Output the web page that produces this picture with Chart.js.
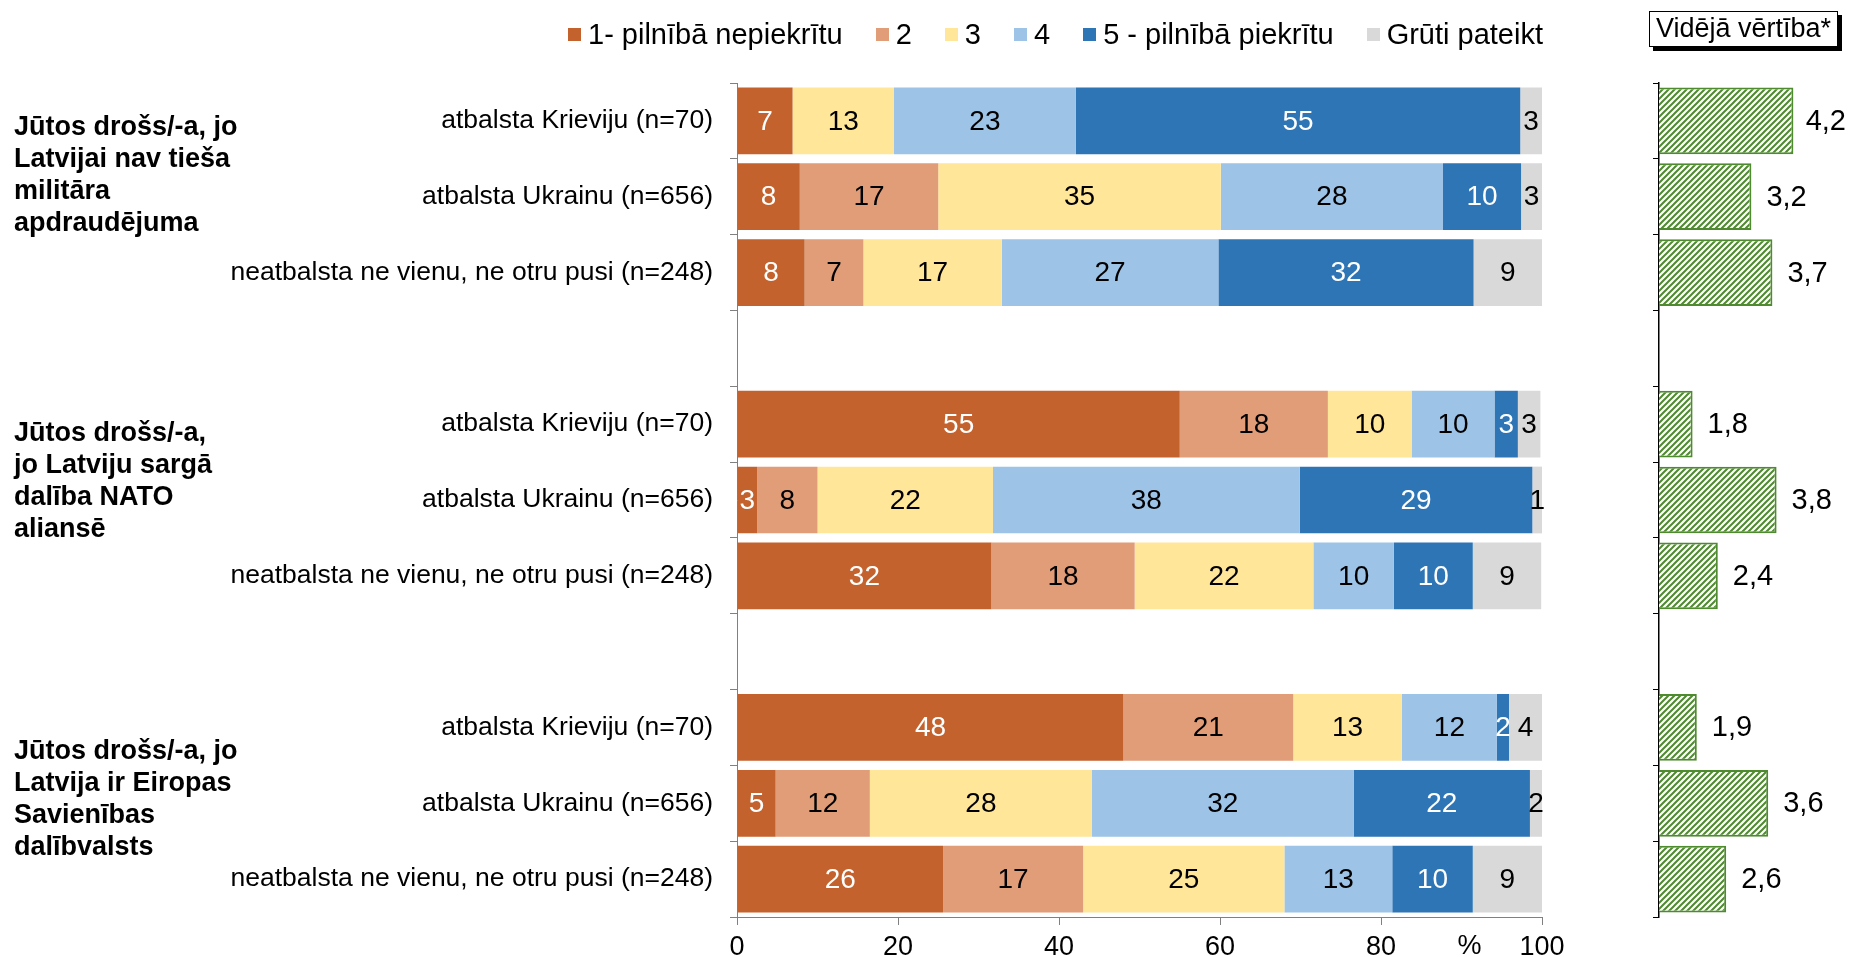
<!DOCTYPE html>
<html>
<head>
<meta charset="utf-8">
<script src="https://cdn.jsdelivr.net/npm/chart.js@4"></script>
<style>
  body { margin: 0; background: #fff; width: 1852px; height: 957px; overflow: hidden; position: relative;
         font-family: "Liberation Sans", Arial, sans-serif; }
  #left { position: absolute; left: 0; top: 0; }
  #right { position: absolute; left: 1590px; top: 0; }
  #legend { position: absolute; left: 568px; top: 18px; display: flex; align-items: center; font-size: 29px; white-space: nowrap; }
  .item { display: flex; align-items: center; margin-right: 33px; }
  .item:last-child { margin-right: 0; }
  .box { width: 13px; height: 13px; margin-right: 7px; }
  #meanTitle { position: absolute; left: 1649px; top: 11px; border: 1px solid #000; padding: 1px 6px 2px 6px;
               font-size: 27px; box-shadow: 4px 4px 0 #000; background: #fff; }
</style>
</head>
<body>
<canvas id="left" width="1580" height="957"></canvas>
<canvas id="right" width="262" height="957"></canvas>
<div id="legend"></div>
<div id="meanTitle">Vidējā vērtība*</div>
<script>
// rindu nosaukumi (tukšās rindas - atstarpes starp grupām)
var rowLabels = [
  'atbalsta Krieviju (n=70)', 'atbalsta Ukrainu (n=656)', 'neatbalsta ne vienu, ne otru pusi (n=248)', '',
  'atbalsta Krieviju (n=70)', 'atbalsta Ukrainu (n=656)', 'neatbalsta ne vienu, ne otru pusi (n=248)', '',
  'atbalsta Krieviju (n=70)', 'atbalsta Ukrainu (n=656)', 'neatbalsta ne vienu, ne otru pusi (n=248)'
];
var groupLabels = [
  ['Jūtos drošs/-a, jo', 'Latvijai nav tieša', 'militāra', 'apdraudējuma'],
  ['Jūtos drošs/-a,', 'jo Latviju sargā', 'dalība NATO', 'aliansē'],
  ['Jūtos drošs/-a, jo', 'Latvija ir Eiropas', 'Savienības', 'dalībvalsts']
];
var seriesNames = ['1- pilnībā nepiekrītu', '2', '3', '4', '5 - pilnībā piekrītu', 'Grūti pateikt'];
var seriesColors = ['#C3622D', '#E19C78', '#FFE699', '#9DC3E6', '#2E75B6', '#D9D9D9'];
var labelColors = ['#fff', '#000', '#000', '#000', '#fff', '#000'];

// joslu garumi (%)
var s1 = [6.9, 7.8, 8.4, null, 55.0, 2.5, 31.6, null, 48.0, 4.8, 25.6];
var s2 = [0, 17.2, 7.3, null, 18.4, 7.5, 17.8, null, 21.1, 11.7, 17.4];
var s3 = [12.6, 35.1, 17.2, null, 10.4, 21.8, 22.2, null, 13.5, 27.6, 25.0];
var s4 = [22.6, 27.6, 26.9, null, 10.3, 38.1, 10.0, null, 11.8, 32.5, 13.4];
var s5 = [55.2, 9.7, 31.7, null, 2.9, 28.9, 9.8, null, 1.5, 21.9, 10.0];
var s6 = [2.7, 2.6, 8.5, null, 2.8, 1.2, 8.5, null, 4.1, 1.5, 8.6];

// uz joslām rādītās vērtības
var l1 = [7, 8, 8, null, 55, 3, 32, null, 48, 5, 26];
var l2 = [null, 17, 7, null, 18, 8, 18, null, 21, 12, 17];
var l3 = [13, 35, 17, null, 10, 22, 22, null, 13, 28, 25];
var l4 = [23, 28, 27, null, 10, 38, 10, null, 12, 32, 13];
var l5 = [55, 10, 32, null, 3, 29, 10, null, 2, 22, 10];
var l6 = [3, 3, 9, null, 3, 1, 9, null, 4, 2, 9];

// vidējās vērtības
var means = [4.2, 3.2, 3.7, null, 1.8, 3.8, 2.4, null, 1.9, 3.6, 2.6];

var xTicks = [0, 20, 40, 60, 80, 100];

var FONT = '"Liberation Sans", Arial, sans-serif';
var seriesData = [s1, s2, s3, s4, s5, s6];
var seriesLabels = [l1, l2, l3, l4, l5, l6];

// leģenda
var legendEl = document.getElementById('legend');
seriesNames.forEach(function (name, i) {
  var item = document.createElement('div');
  item.className = 'item';
  item.innerHTML = '<div class="box" style="background:' + seriesColors[i] + '"></div><span>' + name + '</span>';
  legendEl.appendChild(item);
});

// vērtības joslās
var barLabels = {
  id: 'barLabels',
  afterDatasetsDraw: function (chart) {
    var ctx = chart.ctx;
    ctx.save();
    ctx.font = '28px ' + FONT;
    ctx.textAlign = 'center';
    ctx.textBaseline = 'middle';
    chart.data.datasets.forEach(function (ds, i) {
      chart.getDatasetMeta(i).data.forEach(function (bar, j) {
        var t = ds.shown[j];
        if (t == null) return;
        ctx.fillStyle = ds.labelColor;
        ctx.fillText(String(t), (bar.x + bar.base) / 2, bar.y + 1);
      });
    });
    ctx.restore();
  }
};

// grupu nosaukumi un % zīme
var sideText = {
  id: 'sideText',
  afterDraw: function (chart) {
    var ctx = chart.ctx;
    var y = chart.scales.y, x = chart.scales.x;
    var mid = [1, 5, 9];
    var shift = [-21, -18, -4];
    ctx.save();
    ctx.font = 'bold 27px ' + FONT;
    ctx.fillStyle = '#000';
    ctx.textAlign = 'left';
    ctx.textBaseline = 'middle';
    groupLabels.forEach(function (lines, g) {
      var cy = y.getPixelForValue(mid[g]) + shift[g];
      lines.forEach(function (line, k) {
        ctx.fillText(line, 14, cy + (k - (lines.length - 1) / 2) * 32);
      });
    });
    ctx.font = '27px ' + FONT;
    ctx.textAlign = 'center';
    ctx.fillText('%', x.getPixelForValue(91), 947);
    ctx.restore();
  }
};

new Chart(document.getElementById('left'), {
  type: 'bar',
  data: {
    labels: rowLabels,
    datasets: seriesData.map(function (d, i) {
      return {
        label: seriesNames[i],
        data: d,
        shown: seriesLabels[i],
        labelColor: labelColors[i],
        backgroundColor: seriesColors[i],
        borderWidth: 0,
        barPercentage: 0.88,
        categoryPercentage: 1
      };
    })
  },
  options: {
    indexAxis: 'y',
    responsive: false,
    animation: false,
    layout: { padding: { top: 83, right: 38, left: 0, bottom: 0 } },
    plugins: { legend: { display: false }, tooltip: { enabled: false } },
    scales: {
      x: {
        stacked: true, min: 0, max: 100,
        afterBuildTicks: function (s) { s.ticks = xTicks.map(function (v) { return { value: v }; }); },
        afterFit: function (s) { s.height = 40; },
        grid: { drawOnChartArea: false, drawTicks: true, tickLength: 8, color: '#808080' },
        border: { color: '#808080', width: 1 },
        ticks: { color: '#000', padding: 6, font: { size: 27, family: FONT } }
      },
      y: {
        stacked: true,
        afterFit: function (s) { s.width = 737; },
        grid: { offset: true, drawOnChartArea: false, drawTicks: true, tickLength: 7, color: '#808080' },
        border: { color: '#808080', width: 1 },
        ticks: { color: '#000', padding: 17, autoSkip: false, font: { size: 26.5, family: FONT } }
      }
    }
  },
  plugins: [barLabels, sideText]
});

// svītrots zaļš raksts
function hatch() {
  var c = document.createElement('canvas');
  c.width = 6; c.height = 6;
  var g = c.getContext('2d');
  g.fillStyle = '#fff';
  g.fillRect(0, 0, 6, 6);
  g.strokeStyle = '#4E8A2E';
  g.lineWidth = 2;
  g.beginPath();
  g.moveTo(-1, 7); g.lineTo(7, -1);
  g.moveTo(-4, 4); g.lineTo(4, -4);
  g.moveTo(2, 10); g.lineTo(10, 2);
  g.stroke();
  return g.createPattern(c, 'repeat');
}

var meanLabels = {
  id: 'meanLabels',
  afterDatasetsDraw: function (chart) {
    var ctx = chart.ctx;
    ctx.save();
    ctx.font = '29px ' + FONT;
    ctx.fillStyle = '#000';
    ctx.textAlign = 'left';
    ctx.textBaseline = 'middle';
    chart.getDatasetMeta(0).data.forEach(function (bar, j) {
      if (means[j] == null) return;
      var t = String(means[j]).replace('.', ',');
      var x = Math.min(bar.x + 15, chart.width - ctx.measureText(t).width - 6);
      ctx.fillText(t, x, bar.y + 1);
    });
    ctx.restore();
  }
};

new Chart(document.getElementById('right'), {
  type: 'bar',
  data: {
    labels: rowLabels,
    datasets: [{
      data: means,
      backgroundColor: hatch(),
      borderColor: '#4E8A2E',
      borderWidth: 2,
      borderSkipped: false,
      barPercentage: 0.88,
      categoryPercentage: 1
    }]
  },
  options: {
    indexAxis: 'y',
    responsive: false,
    animation: false,
    layout: { padding: { top: 83, right: 25, left: 0, bottom: 40 } },
    plugins: { legend: { display: false }, tooltip: { enabled: false } },
    scales: {
      x: { display: false, min: 1, max: 5 },
      y: {
        afterFit: function (s) { s.width = 69; },
        grid: { offset: true, drawOnChartArea: false, drawTicks: true, tickLength: 6, color: '#000' },
        border: { color: '#000', width: 1.5 },
        ticks: { display: false }
      }
    }
  },
  plugins: [meanLabels]
});
</script>
</body>
</html>
